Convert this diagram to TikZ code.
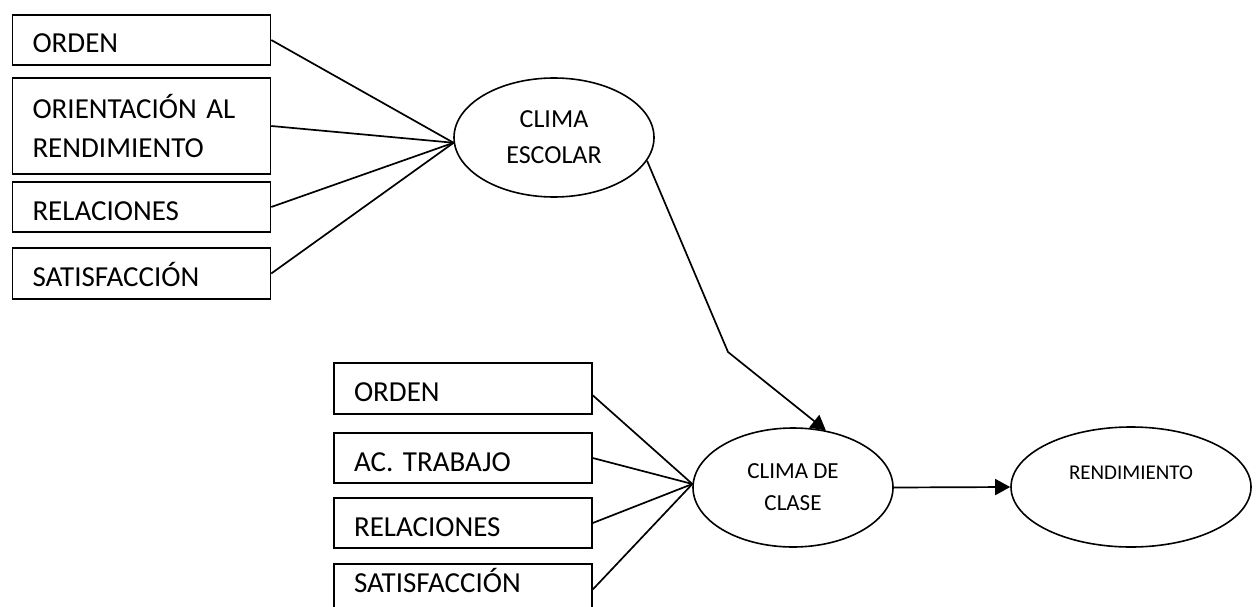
\documentclass[tikz,border=0pt]{standalone}
\usepackage{fontspec}
\setmainfont{Carlito}
\frenchspacing
\usetikzlibrary{shapes.geometric,arrows.meta}
\begin{document}
\begin{tikzpicture}[x=1pt,y=-1pt,
  box/.style={draw, line width=1.5pt, rectangle, minimum width=258pt, text width=218pt,
    inner xsep=20pt, inner ysep=0pt, align=left, font=\fontsize{29}{39}\selectfont\frenchspacing},
  one/.style={box, minimum height=51pt, text height=26pt, text depth=0pt},
  ell/.style={draw, line width=1.6pt, ellipse, inner sep=0pt, align=center},
  conn/.style={line width=1.7pt},
  arr/.style={line width=1.7pt, -{Triangle[length=15pt,width=16pt]}}]
\useasboundingbox (0,0) rectangle (1257,607);
\clip (0,0) rectangle (1257,607);

% top group
\node[one, minimum height=50pt] (o1) at (141.5,40) {ORDEN};
\node[box, minimum height=96pt] (o2) at (141.5,126) {ORIENTACIÓN AL\\RENDIMIENTO};
\node[one, minimum height=50pt] (r1) at (141.5,207) {RELACIONES};
\node[one] (s1) at (141.5,273.5) {SATISFACCIÓN};

\node[ell, minimum width=200pt, minimum height=119pt, font=\fontsize{26}{36}\selectfont]
  (ce) at (554,137.5) {CLIMA\\ESCOLAR};

% bottom group
\node[one] (o3) at (463,388.5) {ORDEN};
\node[one, minimum height=50pt] (a3) at (463,458) {AC. TRABAJO};
\node[one, minimum height=50pt] (r3) at (463,523) {RELACIONES};
\node[one, text depth=20pt] (s3) at (463,589.5) {SATISFACCIÓN};

\node[ell, minimum width=200pt, minimum height=119pt, font=\fontsize{23}{32}\selectfont]
  (ccl) at (793,487.5) {CLIMA DE\\CLASE};
\node[ell, minimum width=240pt, minimum height=120pt, font=\fontsize{21}{28}\selectfont]
  (rend) at (1131,487) {RENDIMIENTO\\\mbox{}};

\coordinate (bend) at (728,352);

% connectors
\draw[conn] (o1.east) -- (ce.183);
\draw[conn] (o2.east) -- (ce.183);
\draw[conn] (r1.east) -- (ce.183);
\draw[conn] (s1.east) -- (ce.183);

\draw[conn] (o3.-3.5) -- (ccl.178);
\draw[conn] (a3.east) -- (ccl.178);
\draw[conn] (r3.east) -- (ccl.178);
\draw[conn] (s3.east) -- (ccl.178);

\draw[arr] (ce.-14) -- (bend) -- (ccl.60);
\draw[arr] (ccl.east) -- (rend.west);
\end{tikzpicture}
\end{document}
